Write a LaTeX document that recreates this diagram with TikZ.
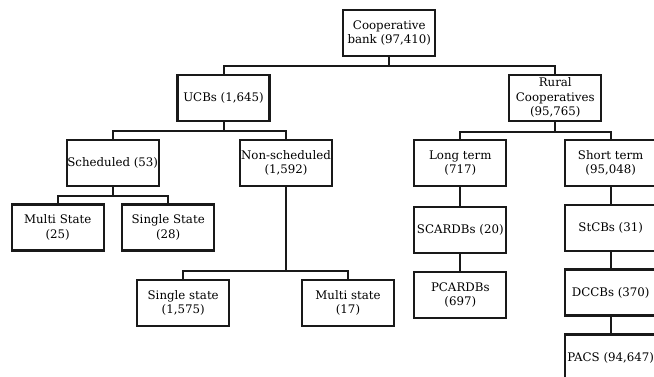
\documentclass[tikz,border=0pt]{standalone}
\usepackage{fontspec}
\setmainfont{DejaVu Serif}
\begin{document}
\begin{tikzpicture}[x=1pt,y=-1pt,
  box/.style={draw=black!90,line width=2.2pt,fill=white,minimum width=92pt,minimum height=46pt,
    inner sep=0pt,align=center,font=\fontsize{11.8}{14.5}\selectfont,text=black},
  conn/.style={draw=black!90,line width=2pt}]
\useasboundingbox (0,0) rectangle (654,376);
\clip (0,0) rectangle (654,376);
\node[box] (coop) at (389.3,33) {Cooperative\\bank (97,410)};
\node[box] (ucb) at (223.5,97.8) {UCBs (1,645)};
\node[box] (rural) at (555.3,97.7) {Rural\\Cooperatives\\(95,765)};
\node[box] (sched) at (112.7,162.8) {Scheduled (53)};
\node[box] (nons) at (286,162.8) {Non-scheduled\\(1,592)};
\node[box] (long) at (460.3,163) {Long term\\(717)};
\node[box] (short) at (610.7,163) {Short term\\(95,048)};
\node[box] (multiS) at (57.7,227.5) {Multi State\\(25)};
\node[box] (singleS) at (168.2,227.5) {Single State\\(28)};
\node[box] (singles) at (183.2,303) {Single state\\(1,575)};
\node[box] (multis) at (348,303) {Multi state\\(17)};
\node[box] (scard) at (460.3,229.8) {SCARDBs (20)};
\node[box] (pcard) at (460.3,294.8) {PCARDBs\\(697)};
\node[box] (stcb) at (610.7,228) {StCBs (31)};
\node[box] (dccb) at (610.7,292.5) {DCCBs (370)};
\node[box] (pacs) at (610.7,357.5) {PACS (94,647)};
\draw[conn] (coop.south) -- ++(0,9.3) -| (ucb.north);
\draw[conn] (coop.south) -- ++(0,9.3) -| (rural.north);
\draw[conn] (ucb.south) -- ++(0,9.5) -| (sched.north);
\draw[conn] (ucb.south) -- ++(0,9.5) -| (nons.north);
\draw[conn] (rural.south) -- ++(0,10) -| (long.north);
\draw[conn] (rural.south) -- ++(0,10) -| (short.north);
\draw[conn] (sched.south) -- ++(0,9.5) -| (multiS.north);
\draw[conn] (sched.south) -- ++(0,9.5) -| (singleS.north);
\draw[conn] (nons.south) -- ++(0,84.5) -| (singles.north);
\draw[conn] (nons.south) -- ++(0,84.5) -| (multis.north);
\draw[conn] (long.south) -- (scard.north);
\draw[conn] (scard.south) -- (pcard.north);
\draw[conn] (short.south) -- (stcb.north);
\draw[conn] (stcb.south) -- (dccb.north);
\draw[conn] (dccb.south) -- (pacs.north);
\end{tikzpicture}
\end{document}
